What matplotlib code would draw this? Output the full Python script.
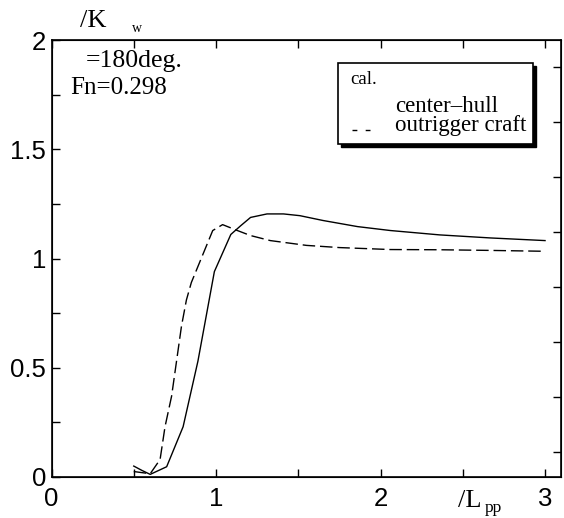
import numpy as np
import matplotlib
matplotlib.use("Agg")
import matplotlib.pyplot as plt
from matplotlib.patches import Rectangle
from matplotlib.lines import Line2D

# wave length ratio lambda/Lpp and amplitude ratio
x_center = [0.50, 0.55, 0.60, 0.70, 0.80, 0.89, 0.99, 1.09, 1.15, 1.21, 1.31,
            1.41, 1.51, 1.65, 1.86, 2.06, 2.36, 2.67, 3.00]
y_center = [0.050, 0.030, 0.012, 0.047, 0.230, 0.530, 0.940, 1.110, 1.150, 1.188,
            1.204, 1.204, 1.196, 1.174, 1.146, 1.128, 1.108, 1.094, 1.082]

x_outrig = [0.50, 0.60, 0.66, 0.69, 0.73, 0.76, 0.79, 0.82, 0.85, 0.91, 0.98,
            1.04, 1.13, 1.21, 1.33, 1.55, 1.75, 2.06, 2.36, 2.67, 3.00]
y_outrig = [0.025, 0.015, 0.080, 0.230, 0.370, 0.530, 0.690, 0.810, 0.890, 1.000,
            1.128, 1.155, 1.128, 1.105, 1.082, 1.060, 1.050, 1.041, 1.040, 1.037, 1.033]

xticks = [0, 1, 2, 3]
yticks = [0, 0.5, 1, 1.5, 2]
ytick_labels = ["0", "0.5", "1", "1.5", "2"]

W, H = 564, 518
serif = "Liberation Serif"
sans = "Liberation Sans"


def fpos(px, py):
    return px / W, 1 - py / H


fig = plt.figure(figsize=(W / 100, H / 100), dpi=100)
L, R, T, B = 51.5, 561, 40, 477
ax = fig.add_axes([L / W, 1 - B / H, (R - L) / W, (B - T) / H])

ax.plot(x_center, y_center, color="black", lw=1.0)
ax.plot(x_outrig, y_outrig, color="black", lw=1.0, linestyle=(0, (9, 3.5)))

ax.set_xlim(0, 3.097)
ax.set_ylim(0, 2)
ax.set_xticks(xticks)
ax.set_xticklabels([str(v) for v in xticks], fontfamily=sans, fontsize=18.5)
ax.set_xticks(np.arange(0.5, 3.0, 0.5), minor=True)
ax.set_yticks(yticks)
ax.set_yticklabels(ytick_labels, fontfamily=sans, fontsize=18.5)
ax.set_yticks(np.arange(0.25, 2.0, 0.5), minor=True)
ax.tick_params(which="both", direction="in", top=True, right=False,
               length=6, width=1.0)
ax.tick_params(axis="x", pad=7)
ax.tick_params(axis="y", pad=4)
for s in ax.spines.values():
    s.set_linewidth(1.2)

# right axis has its own tick spacing in the original
ax2 = ax.twinx()
ax2.set_ylim(0, 2)
ax2.set_yticks(np.linspace(0.115, 1.878, 8))
ax2.tick_params(direction="in", length=6, width=1.0, labelright=False)

# annotations
fig.text(*fpos(80, 21), "/K", fontfamily=serif, fontsize=19, va="center", ha="left")
fig.text(*fpos(132, 28), "w", fontfamily=serif, fontsize=10, va="center", ha="left")
fig.text(*fpos(86, 61), "=180deg.", fontfamily=serif, fontsize=18.5, va="center", ha="left")
fig.text(*fpos(70, 88), "Fn=0.298", fontfamily=serif, fontsize=18, va="center", ha="left")
fig.text(*fpos(458, 501), "/L", fontfamily=serif, fontsize=19, va="center", ha="left")
fig.text(*fpos(485, 508), "pp", fontfamily=serif, fontsize=12.5, va="center", ha="left")

# legend box with shadow
bx0, by0, bx1, by1 = 338, 63, 533, 144
fig.patches.append(Rectangle(fpos(bx0 + 3, by1 + 3), (bx1 - bx0) / W, (by1 - by0) / H,
                             transform=fig.transFigure, facecolor="black",
                             edgecolor="black", zorder=5))
fig.patches.append(Rectangle(fpos(bx0, by1), (bx1 - bx0) / W, (by1 - by0) / H,
                             transform=fig.transFigure, facecolor="white",
                             edgecolor="black", lw=1.2, zorder=6))
fig.text(*fpos(350, 80), "cal.", fontfamily=serif, fontsize=13.5, va="center", zorder=7)
fig.text(*fpos(395, 107), "center\u2013hull", fontfamily=serif, fontsize=16.5, va="center", zorder=7)
fig.text(*fpos(395, 126), "outrigger craft", fontfamily=serif, fontsize=16.5, va="center", zorder=7)
lx = [352 / W, 370 / W]
ly = [1 - 130 / H, 1 - 130 / H]
fig.lines.append(Line2D(lx, ly, transform=fig.transFigure, color="black",
                        lw=1.0, linestyle=(0, (3.5, 6)), zorder=7))

fig.savefig("out.png", dpi=100)
